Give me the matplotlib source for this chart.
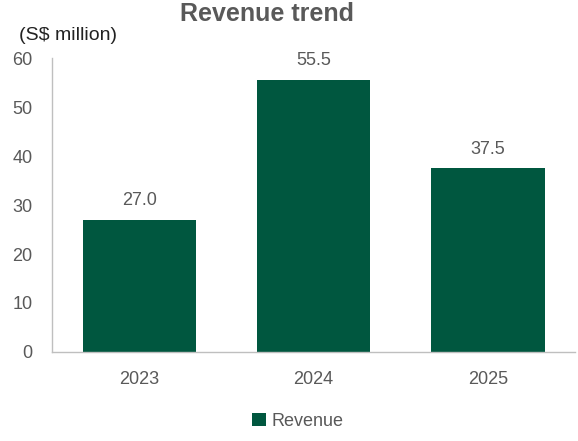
import matplotlib.pyplot as plt

plt.rcParams['font.family'] = ['Liberation Sans', 'DejaVu Sans']

years = ['2023', '2024', '2025']
revenue = [27.0, 55.5, 37.5]
yticks = [0, 10, 20, 30, 40, 50, 60]

bar_color = '#00573F'
text_color = '#595959'

fig = plt.figure(figsize=(5.78, 4.41), dpi=100)
ax = fig.add_axes([0.09, 0.202, 0.905, 0.666])

bars = ax.bar(years, revenue, width=0.65, color=bar_color, label='Revenue')
for rect, val in zip(bars, revenue):
    ax.text(rect.get_x() + rect.get_width() / 2, val + 2.2, f'{val:.1f}',
            ha='center', va='bottom', fontsize=13, color=text_color)

ax.set_ylim(0, 60)
ax.set_xlim(-0.5, 2.5)
ax.set_yticks(yticks)
ax.tick_params(axis='both', length=0, labelsize=13, colors=text_color)
ax.tick_params(axis='y', pad=14)
ax.tick_params(axis='x', pad=14)
for side in ['top', 'right']:
    ax.spines[side].set_visible(False)
for side in ['left', 'bottom']:
    ax.spines[side].set_color('#BFBFBF')
    ax.spines[side].set_linewidth(1.0)

fig.text(0.462, 0.995, 'Revenue trend', ha='center', va='top', fontsize=18,
         fontweight='bold', color=text_color)
fig.text(0.033, 0.9, '(S$ million)', ha='left', va='bottom', fontsize=14,
         color='#222222')

fig.legend(loc='lower center', bbox_to_anchor=(0.515, -0.012), frameon=False,
           fontsize=13, handlelength=0.75, handleheight=0.75, handletextpad=0.3,
           labelcolor=text_color)

fig.savefig('out.png', dpi=100)
